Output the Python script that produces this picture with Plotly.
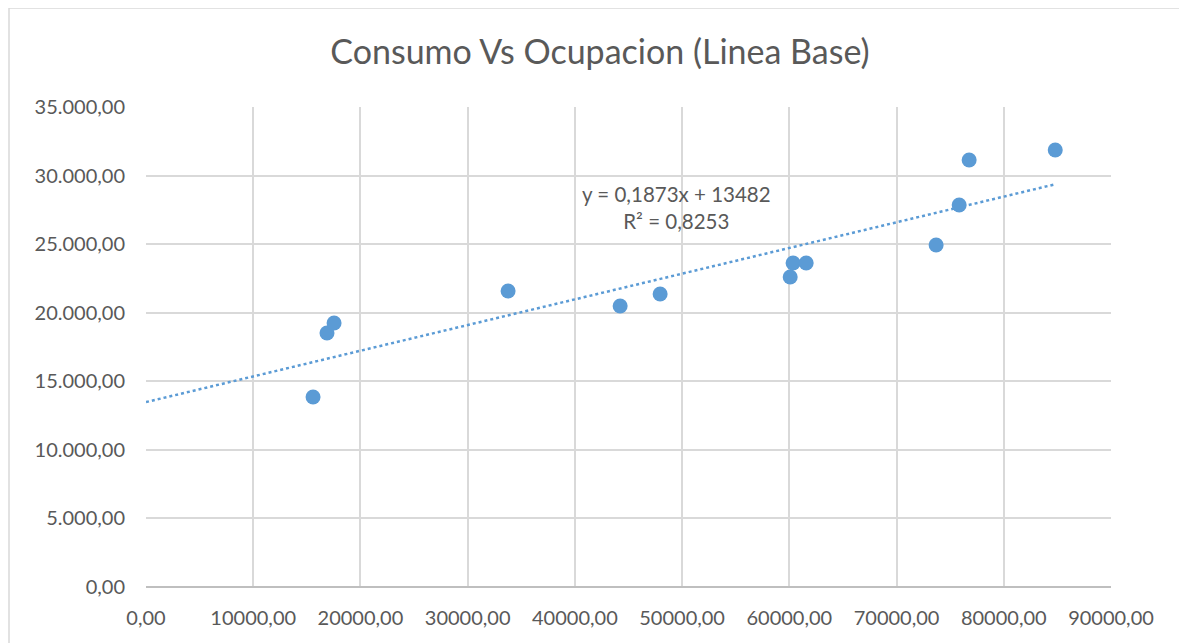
import plotly.graph_objects as go

# Ocupacion (x) vs Consumo (y)
ocupacion = [15580, 16880, 17540, 33770, 44220, 47950, 60080, 60350, 61570,
             73690, 75840, 76770, 84800]
consumo = [13850, 18520, 19250, 21580, 20490, 21370, 22600, 23620, 23620,
           24940, 27850, 31140, 31870]

# linear trend from the chart label
slope = 0.1873
intercept = 13482
r2 = 0.8253

x_ticks = [0, 10000, 20000, 30000, 40000, 50000, 60000, 70000, 80000, 90000]
y_ticks = [0, 5000, 10000, 15000, 20000, 25000, 30000, 35000]

blue = "#5B9BD5"
grey_txt = "#595959"
grid = "#D9D9D9"
font_family = "Lato, 'Open Sans', sans-serif"

trend_x = [0, max(ocupacion)]
trend_y = [slope * v + intercept for v in trend_x]

fig = go.Figure()

fig.add_trace(go.Scatter(
    x=trend_x, y=trend_y, mode="lines",
    line=dict(color=blue, width=2.5, dash="dot"),
    hoverinfo="skip", showlegend=False
))

fig.add_trace(go.Scatter(
    x=ocupacion, y=consumo, mode="markers",
    marker=dict(color=blue, size=15),
    showlegend=False
))

fig.add_annotation(
    x=49500, y=27650, xref="x", yref="y",
    text=f"y = {str(slope).replace('.', ',')}x + {intercept}<br>"
         f"R² = {str(r2).replace('.', ',')}",
    showarrow=False, align="center",
    font=dict(family=font_family, size=20.5, color=grey_txt)
)

# chart border (page has an 8px body margin, so figure origin is at 8,8)
fig.add_shape(
    type="rect", xref="paper", yref="paper",
    x0=(9 - 146) / 965, x1=(1186 - 146) / 965,
    y0=-(660 - 587) / 480, y1=1 + (107 - 8) / 480,
    line=dict(color="#D9D9D9", width=1.5), layer="below"
)

fig.update_layout(
    width=1179, height=635,
    margin=dict(l=138, r=76, t=99, b=56),
    paper_bgcolor="white", plot_bgcolor="white",
    separators=",.",
    title=dict(
        text="Consumo Vs Ocupacion (Linea Base)",
        x=(600 - 8) / 1179, xanchor="center", y=1 - (52 - 8) / 635, yanchor="middle",
        font=dict(family=font_family, size=34, color=grey_txt)
    ),
    font=dict(family=font_family, size=20, color=grey_txt),
    xaxis=dict(
        range=[0, 90000], tickvals=x_ticks, tickformat=".2f",
        showgrid=True, gridcolor=grid, gridwidth=1.5,
        zeroline=False, showline=False, ticks="",
        ticklabelstandoff=17,
        tickfont=dict(size=20, color=grey_txt)
    ),
    yaxis=dict(
        range=[0, 35000], tickvals=y_ticks, tickformat=",.2f",
        showgrid=True, gridcolor=grid, gridwidth=1.5,
        zeroline=True, zerolinecolor="#BFBFBF", zerolinewidth=1.5,
        showline=False, ticks="",
        ticklabelstandoff=20,
        tickfont=dict(size=20, color=grey_txt)
    )
)

fig.write_html("out.html")
